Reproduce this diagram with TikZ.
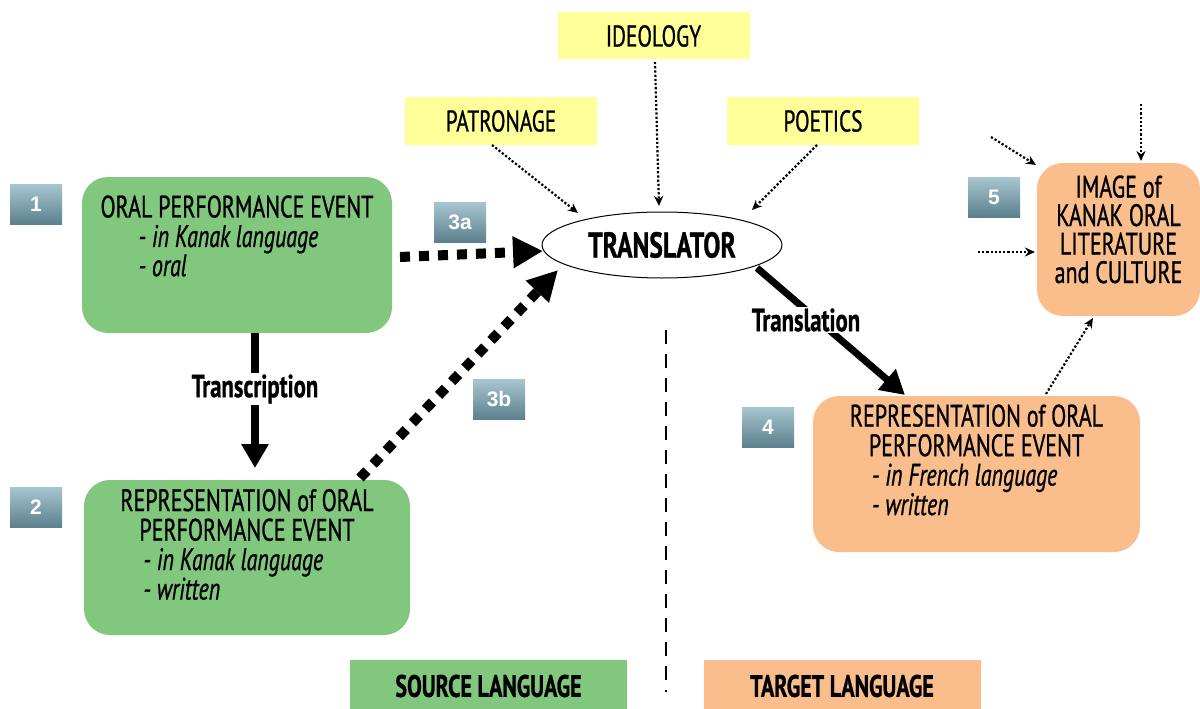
\documentclass[tikz,border=0pt]{standalone}
\usepackage{fontspec}
\setmainfont{PT Sans}[FakeStretch=0.71, FakeBold=0.8]
\newfontfamily\badgefont{Liberation Sans}
\usetikzlibrary{arrows.meta,shapes.geometric}
\definecolor{boxgreen}{RGB}{129,199,125}
\definecolor{boxorange}{RGB}{250,190,140}
\definecolor{boxyellow}{RGB}{255,255,153}
\definecolor{badgetop}{RGB}{168,198,208}
\definecolor{badgebot}{RGB}{92,128,142}
\newcommand{\hd}[1]{\multicolumn{1}{@{}c@{}}{#1}}
\tikzset{
  bigbox/.style={rounded corners=26pt, inner sep=0pt, font=\fontsize{31}{25}\selectfont},
  greenbox/.style={bigbox, fill=boxgreen},
  orangebox/.style={bigbox, fill=boxorange},
  yellowbox/.style={fill=boxyellow, minimum width=192pt, minimum height=47pt, inner sep=0pt, font=\fontsize{30}{30}\selectfont},
  langbox/.style={minimum width=277pt, minimum height=52pt, inner sep=0pt, font=\bfseries\fontsize{31}{30}\selectfont},
  badge/.style={top color=badgetop, bottom color=badgebot, minimum width=52pt, minimum height=40pt, inner sep=0pt, text=white, font=\badgefont\bfseries\fontsize{21}{22}\selectfont},
  bigarrow/.style={line width=8pt, -{Triangle[width=26pt,length=24pt]}},
  thickdots/.style={line width=10pt, dash pattern=on 10pt off 9pt, -{Triangle[width=30pt,length=30pt]}},
  thindots/.style={line width=2.2pt, dash pattern=on 2.2pt off 2pt, -{Stealth[length=10pt,width=9pt]}},
  arrowlabel/.style={fill=white, inner sep=1pt, font=\bfseries\fontsize{32}{30}\selectfont}
}
\begin{document}
\begin{tikzpicture}[x=1pt,y=-1pt]
\useasboundingbox[fill=white] (0,0) rectangle (1200,709);

% main boxes
\node[greenbox, minimum width=310pt, minimum height=156pt] (b1) at (237,255)
  {\begin{tabular}{@{}l@{}}\hd{ORAL PERFORMANCE EVENT}\\ \hspace*{38pt}\textit{- in Kanak language}\\ \hspace*{38pt}\textit{- oral}\\[6pt] \mbox{}\end{tabular}};
\node[greenbox, minimum width=326pt, minimum height=155pt] (b2) at (247,557.5)
  {\begin{tabular}{@{}l@{}}\hd{REPRESENTATION of ORAL}\\ \hd{PERFORMANCE EVENT}\\ \hspace*{23pt}\textit{- in Kanak language}\\ \hspace*{23pt}\textit{- written}\\[-6pt] \mbox{}\end{tabular}};
\node[orangebox, minimum width=327pt, minimum height=156pt] (b4) at (976.5,474)
  {\begin{tabular}{@{}l@{}}\hd{REPRESENTATION of ORAL}\\ \hd{PERFORMANCE EVENT}\\ \hspace*{22pt}\textit{- in French language}\\ \hspace*{22pt}\textit{- written}\\[-4pt] \mbox{}\end{tabular}};
\node[orangebox, minimum width=163pt, minimum height=153pt, font=\fontsize{31}{28.5}\selectfont, align=center] (b5) at (1118.5,239.5)
  {IMAGE of\\KANAK ORAL\\LITERATURE\\and CULTURE\\[-8pt]\mbox{}};

% translator
\node[draw, line width=1pt, ellipse, minimum width=240pt, minimum height=66pt, inner sep=0pt, font=\bfseries\fontsize{36}{38}\selectfont] (tr) at (662,245) {TRANSLATOR};

% yellow boxes
\node[yellowbox] (ideo) at (653.5,36) {IDEOLOGY};
\node[yellowbox] (patr) at (501,121) {PATRONAGE};
\node[yellowbox] (poet) at (823,121) {POETICS};

% language boxes
\node[langbox, fill=boxgreen] (src) at (488.5,686) {SOURCE LANGUAGE};
\node[langbox, fill=boxorange] (tgt) at (842,686) {TARGET LANGUAGE};

% badges
\node[badge] (n1) at (36,204) {1};
\node[badge] (n2) at (36,507) {2};
\node[badge] (n3a) at (460,222) {3a};
\node[badge] (n3b) at (499,399) {3b};
\node[badge] (n4) at (768,427) {4};
\node[badge] (n5) at (994,197) {5};

% coordinates
\coordinate (t1s) at (255,333);
\coordinate (t1e) at (255,468);
\coordinate (tls) at (757,268);
\coordinate (tle) at (905,395);
\coordinate (a3s) at (400,257);
\coordinate (a3e) at (543,251);
\coordinate (b3s) at (360,478);
\coordinate (b3e) at (558,270);
\coordinate (pa1) at (492,145);
\coordinate (pa2) at (578,213);
\coordinate (id1) at (655,62);
\coordinate (id2) at (659,206);
\coordinate (po1) at (817,145);
\coordinate (po2) at (752,210);
\coordinate (f1s) at (991,137);
\coordinate (f1e) at (1036,165);
\coordinate (f2s) at (1141,104);
\coordinate (f2e) at (1141,161);
\coordinate (f3s) at (978,252);
\coordinate (f3e) at (1035,252);
\coordinate (g1s) at (1046,394);
\coordinate (g1e) at (1093,318);
\coordinate (dv1) at (666,330);
\coordinate (dv2) at (666,692);

% arrows
\draw[bigarrow] (t1s) -- (t1e);
\node[arrowlabel] (lt) at (255,389) {Transcription};
\draw[bigarrow, line width=7pt] (tls) -- (tle);
\node[arrowlabel] (ltl) at (806,320) {Translation};
\draw[thickdots] (a3s) -- (a3e);
\draw[thickdots] (b3s) -- (b3e);
\draw[thindots] (pa1) -- (pa2);
\draw[thindots] (id1) -- (id2);
\draw[thindots] (po1) -- (po2);
\draw[thindots] (f1s) -- (f1e);
\draw[thindots] (f2s) -- (f2e);
\draw[thindots] (f3s) -- (f3e);
\draw[thindots] (g1s) -- (g1e);
\draw[line width=2.5pt, dash pattern=on 14pt off 10pt] (dv1) -- (dv2);
\end{tikzpicture}
\end{document}
